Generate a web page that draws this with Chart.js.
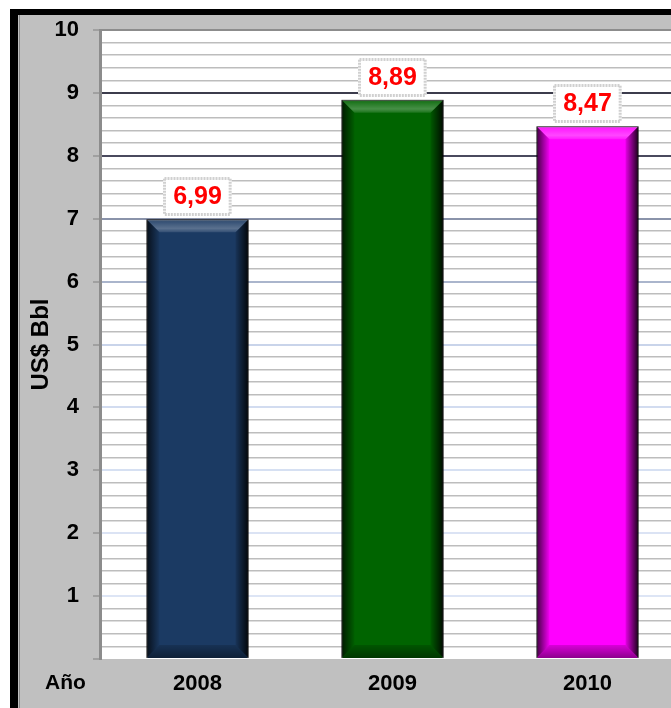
<!DOCTYPE html>
<html lang="es">
<head>
  <meta charset="UTF-8">
  <title>US$ Bbl por año</title>
  <style>
    html, body { margin: 0; padding: 0; background: #fff; overflow: hidden; }
    canvas { display: block; }
  </style>
</head>
<body>
  <canvas id="myChart" width="690" height="708"></canvas>
  <script src="https://cdn.jsdelivr.net/npm/chart.js"></script>
  <script>
    // Datos
    var years = ['2008', '2009', '2010'];
    var prices = [6.99, 8.89, 8.47];
    var barColors = ['#1b3a63', '#006400', '#ff00ff'];
    var yMax = 10;
    var minorStep = 0.2;

    // color de la línea de división mayor según el valor
    var majorGrid = {
      10: '#8c8c8c', 9: '#3c3c4c', 8: '#4a4a5e', 7: '#8a93aa', 6: '#aab5cc',
      5: '#c9d4ea', 4: '#d2dcf0', 3: '#d6e0f2', 2: '#dbe3f4', 1: '#dde5f5', 0: 'rgba(0,0,0,0)'
    };

    var FONT = 'Arial, "Liberation Sans", sans-serif';

    function isWhole(v) { return Math.abs(v - Math.round(v)) < 1e-6; }

    // marco gris con bordes negros y fondo blanco del área de trazado
    var framePlugin = {
      id: 'frame',
      beforeDraw: function(chart) {
        var ctx = chart.ctx, W = chart.width, H = chart.height, a = chart.chartArea;
        ctx.save();
        ctx.fillStyle = '#ffffff';
        ctx.fillRect(0, 0, W, H);
        ctx.fillStyle = '#c0c0c0';
        ctx.fillRect(10, 9, W - 10, H - 9);
        ctx.fillStyle = '#000000';
        ctx.fillRect(10, 9, W - 10, 6);
        ctx.fillRect(10, 9, 8, H - 9);
        ctx.fillStyle = '#8a8a8a';
        ctx.fillRect(19, 15, 1, H - 15);
        ctx.fillStyle = '#ffffff';
        ctx.fillRect(a.left, a.top, a.right - a.left, a.bottom - a.top);
        ctx.restore();
      },
      afterDraw: function(chart) {
        var ctx = chart.ctx;
        ctx.save();
        ctx.font = 'bold 21px ' + FONT;
        ctx.fillStyle = '#000';
        ctx.textAlign = 'left';
        ctx.textBaseline = 'middle';
        ctx.fillText('Año', 45, 683);
        ctx.restore();
      }
    };

    // efecto biselado de las barras
    var bevelPlugin = {
      id: 'bevel',
      afterDatasetsDraw: function(chart) {
        var ctx = chart.ctx;
        chart.getDatasetMeta(0).data.forEach(function(bar) {
          var p = bar.getProps(['x', 'y', 'base', 'width'], true);
          var l = p.x - p.width / 2, r = p.x + p.width / 2, t = p.y, b = p.base;
          var e = 13, g;
          ctx.save();
          // lado izquierdo
          g = ctx.createLinearGradient(l, 0, l + e, 0);
          g.addColorStop(0, 'rgba(0,0,0,0.75)');
          g.addColorStop(1, 'rgba(0,0,0,0.05)');
          ctx.fillStyle = g;
          ctx.beginPath();
          ctx.moveTo(l, t); ctx.lineTo(l + e, t + e); ctx.lineTo(l + e, b - e); ctx.lineTo(l, b);
          ctx.closePath(); ctx.fill();
          // lado derecho
          g = ctx.createLinearGradient(r, 0, r - e, 0);
          g.addColorStop(0, 'rgba(0,0,0,0.9)');
          g.addColorStop(1, 'rgba(0,0,0,0.1)');
          ctx.fillStyle = g;
          ctx.beginPath();
          ctx.moveTo(r, t); ctx.lineTo(r - e, t + e); ctx.lineTo(r - e, b - e); ctx.lineTo(r, b);
          ctx.closePath(); ctx.fill();
          // bisel superior
          g = ctx.createLinearGradient(0, t, 0, t + e);
          g.addColorStop(0, 'rgba(0,0,0,0.35)');
          g.addColorStop(0.2, 'rgba(255,255,255,0.12)');
          g.addColorStop(0.7, 'rgba(255,255,255,0.28)');
          g.addColorStop(1, 'rgba(255,255,255,0.1)');
          ctx.fillStyle = g;
          ctx.beginPath();
          ctx.moveTo(l, t); ctx.lineTo(r, t); ctx.lineTo(r - e, t + e); ctx.lineTo(l + e, t + e);
          ctx.closePath(); ctx.fill();
          // bisel inferior
          g = ctx.createLinearGradient(0, b - e, 0, b);
          g.addColorStop(0, 'rgba(0,0,0,0.15)');
          g.addColorStop(1, 'rgba(0,0,0,0.45)');
          ctx.fillStyle = g;
          ctx.beginPath();
          ctx.moveTo(l, b); ctx.lineTo(r, b); ctx.lineTo(r - e, b - e); ctx.lineTo(l + e, b - e);
          ctx.closePath(); ctx.fill();
          ctx.restore();
        });
      }
    };

    // etiquetas de valor en recuadro punteado
    var valueBoxPlugin = {
      id: 'valueBoxes',
      afterDatasetsDraw: function(chart) {
        var ctx = chart.ctx;
        ctx.save();
        ctx.font = 'bold 25px ' + FONT;
        chart.getDatasetMeta(0).data.forEach(function(bar, i) {
          var txt = prices[i].toFixed(2).replace('.', ',');
          var w = ctx.measureText(txt).width + 20, h = 39;
          var bx = Math.round(bar.x - w / 2), by = Math.round(bar.y - 3 - h);
          ctx.fillStyle = '#ffffff';
          ctx.fillRect(bx, by, w, h);
          ctx.strokeStyle = '#d0d0d0';
          ctx.lineWidth = 3;
          ctx.setLineDash([2, 1]);
          ctx.strokeRect(bx + 1.5, by + 1.5, w - 3, h - 3);
          ctx.setLineDash([]);
          ctx.fillStyle = '#ff0000';
          ctx.textAlign = 'center';
          ctx.textBaseline = 'middle';
          ctx.fillText(txt, bar.x, by + h / 2 + 1);
        });
        ctx.restore();
      }
    };

    var ctx = document.getElementById('myChart').getContext('2d');
    var myChart = new Chart(ctx, {
      type: 'bar',
      data: {
        labels: years,
        datasets: [{
          data: prices,
          backgroundColor: barColors,
          borderColor: 'rgba(0,0,0,0.85)',
          borderWidth: 1,
          barPercentage: 0.523,
          categoryPercentage: 1
        }]
      },
      options: {
        responsive: false,
        animation: false,
        layout: { padding: { top: 30, right: 5, left: 0, bottom: 0 } },
        plugins: {
          legend: { display: false },
          tooltip: { enabled: false }
        },
        scales: {
          x: {
            grid: { display: false, drawTicks: false },
            border: { display: false },
            ticks: {
              color: '#000',
              font: { family: FONT, size: 22, weight: 'bold' },
              padding: 12
            },
            afterFit: function(scale) { scale.height = 49; }
          },
          y: {
            min: 0,
            max: yMax,
            border: { display: true, color: '#8c8c8c', width: 3 },
            grid: {
              color: function(c) {
                var v = c.tick.value;
                return isWhole(v) ? majorGrid[Math.round(v)] : '#bdbdbd';
              },
              lineWidth: function(c) {
                var v = c.tick.value;
                return isWhole(v) ? 2 : 1.6;
              },
              tickColor: function(c) {
                return isWhole(c.tick.value) ? '#a0a0a0' : 'rgba(0,0,0,0)';
              },
              tickLength: 7,
              tickWidth: 2
            },
            ticks: {
              stepSize: minorStep,
              autoSkip: false,
              color: '#000',
              padding: 14,
              font: { family: FONT, size: 22, weight: 'bold' },
              callback: function(v) {
                return (isWhole(v) && Math.round(v) > 0) ? String(Math.round(v)) : '';
              }
            },
            title: {
              display: true,
              text: 'US$ Bbl',
              color: '#000',
              font: { family: FONT, size: 24, weight: 'bold' },
              padding: { top: 27, bottom: 0 }
            },
            afterFit: function(scale) { scale.width = 100; }
          }
        }
      },
      plugins: [framePlugin, bevelPlugin, valueBoxPlugin]
    });
  </script>
</body>
</html>
